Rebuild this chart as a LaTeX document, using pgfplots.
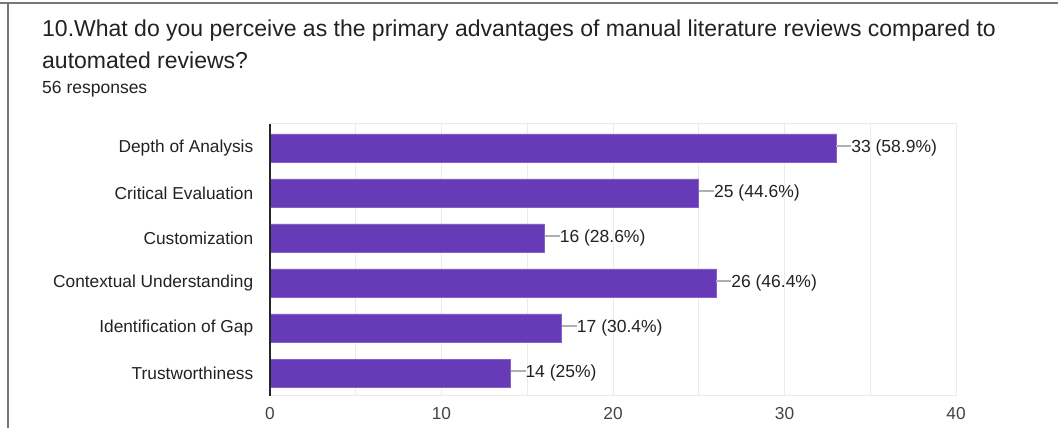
\documentclass[border=0pt]{standalone}
\usepackage{pgfplots}
\pgfplotsset{compat=1.18}
\usepackage{pgfplotstable}
\usepackage{fontspec}
\setmainfont{Liberation Sans}
\definecolor{barpurple}{HTML}{673AB7}
\definecolor{gridgray}{HTML}{EBEBEB}
\definecolor{framegray}{HTML}{777777}
\definecolor{leadgray}{HTML}{B0B0B0}
\definecolor{txt}{HTML}{222222}
\definecolor{ticktxt}{HTML}{444444}
\pgfplotstableread[col sep=comma]{
y,x,label
5,33,33 (58.9\%)
4,25,25 (44.6\%)
3,16,16 (28.6\%)
2,26,26 (46.4\%)
1,17,17 (30.4\%)
0,14,14 (25\%)
}\datatable
\begin{document}
\begin{tikzpicture}
\useasboundingbox (0pt,0pt) rectangle (1058pt,428pt);
\fill[white] (0pt,0pt) rectangle (1058pt,428pt);
\draw[framegray,line width=2pt] (0pt,424.5pt) -- (1058pt,424.5pt);
\draw[framegray,line width=2pt] (7.5pt,0pt) -- (7.5pt,425.5pt);
\node[anchor=base west,inner sep=0pt,text=txt,font=\fontsize{23}{27}\selectfont] at (42pt,391pt) {10.What do you perceive as the primary advantages of manual literature reviews compared to};
\node[anchor=base west,inner sep=0pt,text=txt,font=\fontsize{23}{27}\selectfont] at (42pt,359pt) {automated reviews?};
\node[anchor=base west,inner sep=0pt,text=txt,font=\fontsize{17.5}{21}\selectfont] at (42pt,334pt) {56 responses};
\begin{axis}[
  at={(270pt,32pt)}, anchor=south west,
  scale only axis, width=686pt, height=272pt,
  xmin=0, xmax=40, ymin=-0.511, ymax=5.533,
  xbar, bar width=28pt,
  xtick={0,10,20,30,40},
  minor xtick={5,15,25,35},
  ytick={0,1,2,3,4,5},
  yticklabels={Trustworthiness,Identification of Gap,Contextual Understanding,Customization,Critical Evaluation,Depth of Analysis},
  xmajorgrids, xminorgrids,
  grid style={gridgray,line width=1pt},
  minor grid style={gridgray,line width=1pt},
  axis line style={gridgray,line width=1pt},
  tick style={draw=none},
  yticklabel style={font=\fontsize{17.3}{20}\selectfont,text=txt,xshift=-9pt},
  xticklabel style={font=\fontsize{17.3}{20}\selectfont,text=ticktxt,yshift=-8pt},
  /pgf/number format/assume math mode=true,
  point meta=explicit symbolic,
  nodes near coords={\textcolor{leadgray}{\rule[0.33em]{15pt}{1.5pt}}\pgfplotspointmeta},
  nodes near coords align={anchor=west},
  every node near coord/.append style={inner sep=0pt,text=txt,font=\fontsize{17.5}{21}\selectfont},
  clip=false,
]
\addplot[fill=barpurple,draw=barpurple!80!white,line width=0.8pt] table[x=x,y=y,meta=label]{\datatable};
\draw[black!85,line width=1.2pt] (axis cs:0,-0.511) -- (axis cs:0,5.533);
\end{axis}
\end{tikzpicture}
\end{document}
